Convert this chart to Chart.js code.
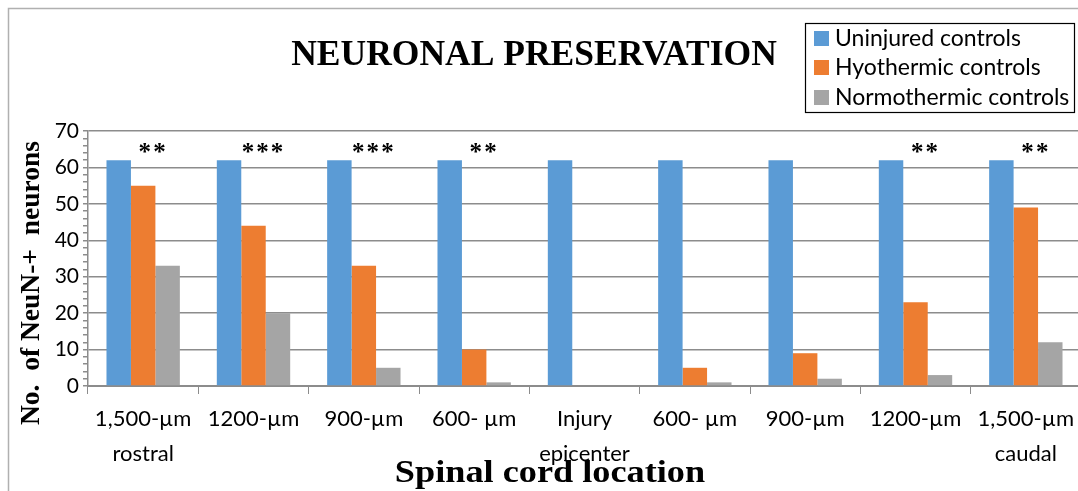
<!DOCTYPE html>
<html>
<head>
<meta charset="utf-8">
<script src="https://cdn.jsdelivr.net/npm/chart.js@4.4.0/dist/chart.umd.min.js"></script>
<style>
html,body{margin:0;padding:0;background:#fff;overflow:hidden;width:1078px;height:491px;}
canvas{display:block;}
</style>
</head>
<body>
<canvas id="c" width="1084" height="491" style="width:1084px;height:491px"></canvas>
<script>
const categories = [
  ['1,500-µm','rostral'], '1200-µm', '900-µm', '600- µm', ['Injury','epicenter'],
  '600- µm', '900-µm', '1200-µm', ['1,500-µm','caudal']
];
const seriesNames = ['Uninjured controls', 'Hyothermic controls', 'Normothermic controls'];
const uninjured   = [62, 62, 62, 62, 62, 62, 62, 62, 62];
const hypothermic = [55, 44, 33, 10, 0, 5, 9, 23, 49];
const normothermic = [33, 20, 5, 1, 0, 1, 2, 3, 12];
const stars = ['**', '***', '***', '**', '', '', '', '**', '**'];
const yTicks = [0, 10, 20, 30, 40, 50, 60, 70];
const colors = ['#5B9BD5', '#ED7D31', '#A5A5A5'];

const GRID = '#8c8c8c';

const decor = {
  id: 'decor',
  afterDraw(chart) {
    const ctx = chart.ctx;
    const x = chart.scales.x, y = chart.scales.y;
    ctx.save();
    // outer frame
    ctx.strokeStyle = '#b0b0b0';
    ctx.lineWidth = 1.5;
    ctx.beginPath();
    ctx.moveTo(8.5, 491); ctx.lineTo(8.5, 8.5); ctx.lineTo(1084, 8.5);
    ctx.stroke();
    // title
    ctx.fillStyle = '#000';
    ctx.font = 'bold 35.5px "Liberation Serif", "Times New Roman", serif';
    ctx.textAlign = 'center';
    ctx.textBaseline = 'alphabetic';
    ctx.fillText('NEURONAL PRESERVATION', 534, 65);
    // y axis title
    ctx.save();
    ctx.translate(39, 283);
    ctx.rotate(-Math.PI / 2);
    ctx.font = 'bold 27.5px "Liberation Serif", "Times New Roman", serif';
    ctx.textBaseline = 'alphabetic';
    ctx.fillText('No.  of NeuN-+  neurons', 0, 0);
    ctx.restore();
    // x axis title
    ctx.save();
    ctx.translate(550, 482);
    ctx.scale(1.17, 1);
    ctx.font = 'bold 31px "Liberation Serif", "Times New Roman", serif';
    ctx.fillText('Spinal cord location', 0, 0);
    ctx.restore();
    // stars
    ctx.font = 'bold 25px "Liberation Serif", "Times New Roman", serif';
    ctx.textBaseline = 'middle';
    stars.forEach((s, i) => {
      if (!s) return;
      ctx.fillText(s.split('').join('\u200A'), x.getPixelForValue(i) + 9, y.getPixelForValue(65.3) + 5);
    });
    // legend
    ctx.fillStyle = '#fff';
    ctx.fillRect(805, 23, 270, 89);
    ctx.strokeStyle = '#000';
    ctx.lineWidth = 1.2;
    ctx.strokeRect(805.5, 23.5, 269, 89);
    ctx.font = '23px Lato, "Open Sans", sans-serif';
    ctx.textAlign = 'left';
    ctx.textBaseline = 'middle';
    const rows = [38, 67, 97];
    seriesNames.forEach((n, i) => {
      ctx.fillStyle = colors[i];
      ctx.fillRect(814, rows[i] - 7, 15, 15);
      ctx.fillStyle = '#000';
      ctx.fillText(n, 835, rows[i] + 1);
    });
    ctx.restore();
  }
};

new Chart(document.getElementById('c'), {
  type: 'bar',
  data: {
    labels: categories,
    datasets: [
      { label: seriesNames[0], data: uninjured, backgroundColor: colors[0] },
      { label: seriesNames[1], data: hypothermic, backgroundColor: colors[1] },
      { label: seriesNames[2], data: normothermic, backgroundColor: colors[2] }
    ]
  },
  options: {
    responsive: false,
    animation: false,
    devicePixelRatio: 1,
    layout: { padding: { top: 131, right: 3, left: 0, bottom: 0 } },
    datasets: { bar: { categoryPercentage: 0.665, barPercentage: 1.0, borderWidth: 0 } },
    plugins: { legend: { display: false }, title: { display: false }, tooltip: { enabled: false } },
    scales: {
      x: {
        offset: true,
        grid: { display: true, drawOnChartArea: false, drawTicks: true, tickLength: 8, color: GRID, offset: true },
        border: { display: true, color: GRID, width: 2 },
        ticks: { color: '#000', font: { family: 'Lato, "Open Sans", sans-serif', size: 22, lineHeight: 1.6 }, padding: 7, maxRotation: 0, autoSkip: false },
        afterFit(s) { s.height = 105; }
      },
      y: {
        min: 0, max: 70,
        afterBuildTicks(s) {
          const t = [];
          for (let v = 0; v <= 70; v += 2) t.push({ value: v });
          s.ticks = t;
        },
        ticks: {
          autoSkip: false,
          color: '#000',
          font: { family: 'Lato, "Open Sans", sans-serif', size: 21 },
          padding: 4,
          callback: (v) => yTicks.includes(v) ? String(v) : ''
        },
        grid: {
          color: (c) => (c.tick && yTicks.includes(c.tick.value)) ? GRID : 'rgba(0,0,0,0)',
          tickColor: GRID,
          tickLength: 5,
          lineWidth: 1.5
        },
        border: { display: true, color: GRID, width: 1.5 },
        afterFit(s) { s.width = 88; }
      }
    }
  },
  plugins: [decor]
});
</script>
</body>
</html>
